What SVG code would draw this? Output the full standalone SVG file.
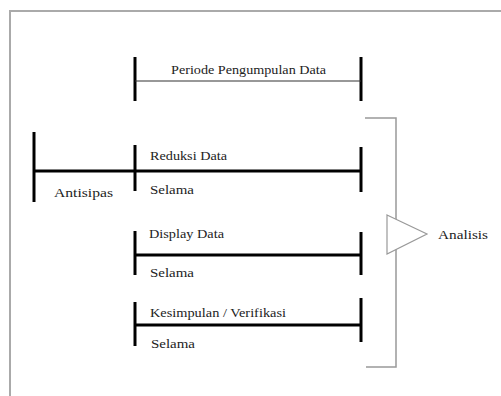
<svg xmlns="http://www.w3.org/2000/svg" width="501" height="396" viewBox="0 0 501 396">
<style>
.t{font-family:'Liberation Serif','Times New Roman','DejaVu Serif',serif;font-size:13px;fill:#222}
.bar{stroke:#000;stroke-width:3;fill:none}
.thin{stroke:#333;stroke-width:1.2;fill:none}
.gray{stroke:#999;stroke-width:1.5;fill:none}
</style>
<rect x="0" y="0" width="501" height="396" fill="#fff"/>
<path d="M10,410 V11 H520" stroke="#aaa" stroke-width="2" fill="none"/>
<g id="periode">
<line class="bar" x1="135" y1="57" x2="135" y2="101"/>
<line class="bar" x1="361" y1="57" x2="361" y2="101"/>
<line class="thin" x1="135" y1="81" x2="361" y2="81"/>
<text class="t" x="171" y="74" textLength="155" lengthAdjust="spacingAndGlyphs">Periode Pengumpulan Data</text>
</g>
<g id="antisipas">
<line class="bar" x1="34" y1="132" x2="34" y2="202"/>
<text class="t" x="54" y="197" textLength="59" lengthAdjust="spacingAndGlyphs">Antisipas</text>
</g>
<g id="reduksi">
<line class="bar" x1="135" y1="145" x2="135" y2="191"/>
<line class="bar" x1="361" y1="147" x2="361" y2="192"/>
<text class="t" x="150" y="160" textLength="77" lengthAdjust="spacingAndGlyphs">Reduksi Data</text>
<text class="t" x="150" y="194" textLength="44" lengthAdjust="spacingAndGlyphs">Selama</text>
</g>
<g id="display">
<line class="bar" x1="135" y1="231" x2="135" y2="275"/>
<line class="bar" x1="361" y1="232" x2="361" y2="275"/>
<text class="t" x="149" y="238" textLength="75" lengthAdjust="spacingAndGlyphs">Display Data</text>
<text class="t" x="150" y="277" textLength="44" lengthAdjust="spacingAndGlyphs">Selama</text>
</g>
<g id="kesimpulan">
<line class="bar" x1="135" y1="302" x2="135" y2="346"/>
<line class="bar" x1="361" y1="298" x2="361" y2="342"/>
<text class="t" x="150" y="317" textLength="136" lengthAdjust="spacingAndGlyphs">Kesimpulan / Verifikasi</text>
<text class="t" x="151" y="348" textLength="44" lengthAdjust="spacingAndGlyphs">Selama</text>
</g>
<g id="analisis">
<path class="gray" d="M365,118 H396 V367 H366"/>
<polygon points="387,215 427,234 387,254" fill="#fff" stroke="#999" stroke-width="1.2"/>
<text class="t" x="438" y="239" textLength="50" lengthAdjust="spacingAndGlyphs">Analisis</text>
</g>
<g id="connectors">
<line class="bar" x1="34" y1="171" x2="361" y2="171"/>
<line class="bar" x1="135" y1="255" x2="361" y2="255"/>
<line class="bar" x1="135" y1="325" x2="361" y2="325"/>
</g>
</svg>
